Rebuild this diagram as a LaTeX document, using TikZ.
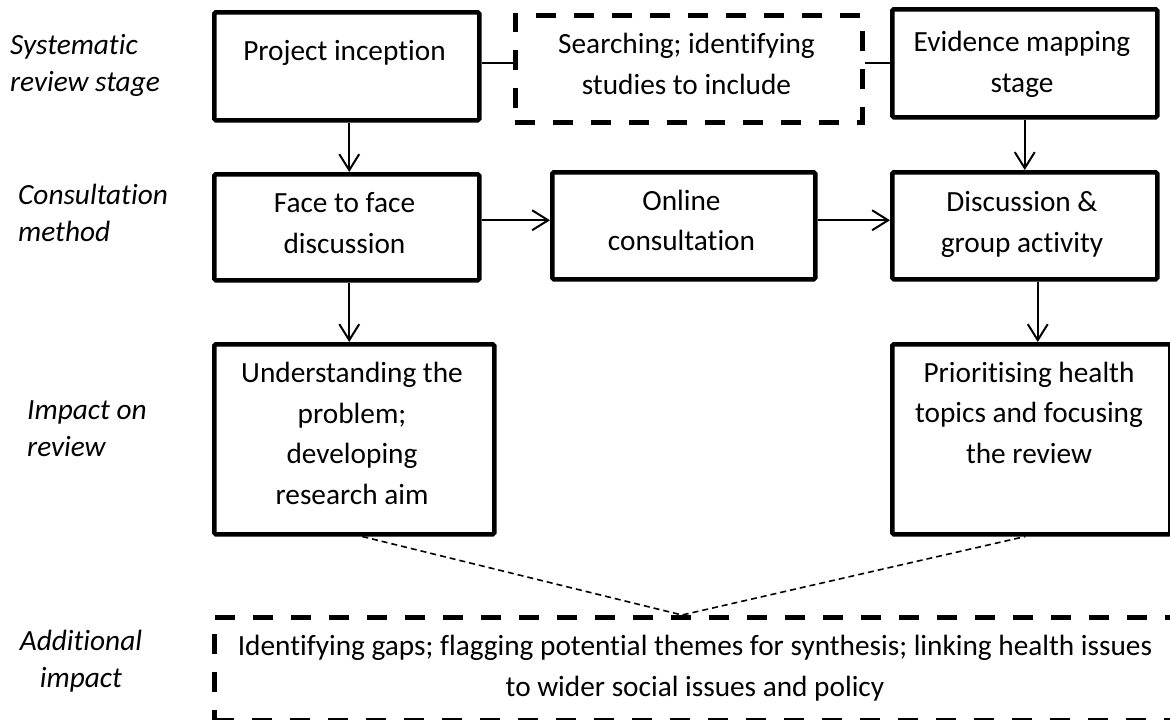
\documentclass[tikz,border=0pt]{standalone}
\usepackage{fontspec}
\setmainfont{Carlito}[RawFeature={-liga;-dlig}]
\usetikzlibrary{arrows.meta}
\begin{document}
\begin{tikzpicture}[x=1pt,y=-1pt,
  box/.style={draw, line width=4.5pt, rounded corners=1.5pt, anchor=north west, inner sep=0pt},
  dbox/.style={draw, line width=4.5pt, dash pattern=on 20pt off 18pt, anchor=north west, inner sep=0pt},
  txt/.style={anchor=north, align=center, inner sep=0pt, font=\fontsize{29.3}{40.7}\selectfont},
  lab/.style={anchor=north west, align=left, inner sep=0pt, font=\fontsize{29.3}{37}\selectfont\itshape},
  conn/.style={line width=2pt},
  arr/.style={line width=2pt, -{Straight Barb[length=16pt,width=20pt]}},
  dl/.style={line width=1.6pt, dash pattern=on 6pt off 4pt}]
\useasboundingbox (0,0) rectangle (1170,720);
\fill[white] (0,0) rectangle (1170,720);

% boxes
\node[box, minimum width=265, minimum height=108] (proj) at (212,10) {};
\node[dbox, minimum width=347, minimum height=107] (search) at (513,13) {};
\node[box, minimum width=265, minimum height=108] (evid) at (890,7) {};
\node[box, minimum width=265, minimum height=106] (face) at (212,172) {};
\node[box, minimum width=263, minimum height=107] (online) at (550,170) {};
\node[box, minimum width=265, minimum height=107] (disc) at (890,170) {};
\node[box, minimum width=280, minimum height=190] (under) at (212,342) {};
\node[box, minimum width=278, minimum height=190] (prio) at (890,342) {};
\node[dbox, minimum width=966, minimum height=103] (addl) at (212,615) {};

% box texts
\node[txt] (projT) at (344.5,31.8) {\strut Project inception};
\node[txt] (searchT) at (686.5,24.8) {\strut Searching; identifying\\studies to include};
\node[txt] (evidT) at (1022,22.8) {\strut Evidence mapping\\stage};
\node[txt] (faceT) at (344.5,183.8) {\strut Face to face\\discussion};
\node[txt] (onlineT) at (681.5,181.5) {\strut Online\\consultation};
\node[txt] (discT) at (1022,182.8) {\strut Discussion \&\\group activity};
\node[txt] (underT) at (352,353.8) {\strut Understanding the\\problem;\\developing\\research aim};
\node[txt] (prioT) at (1029,353.5) {\strut Prioritising health\\topics and focusing\\the review};
\node[txt] (addlT) at (695,626.8) {\strut Identifying gaps; flagging potential themes for synthesis; linking health issues\\to wider social issues and policy};

% row labels
\node[lab] (l1) at (10,28.4) {\strut Systematic\\review stage};
\node[lab] (l2) at (18,178.4) {\strut Consultation\\method};
\node[lab] (l3) at (27,393.4) {\strut Impact on\\review};
\node[lab, anchor=north, align=center] (l4) at (81,624.4) {\strut Additional\\impact};

% connectors
\draw[conn] ([yshift=3pt]proj.east) -- ([yshift=3pt]proj.east -| search.west);
\draw[conn] (evid.west -| search.east) -- (evid.west);
\draw[arr] ([xshift=2.5pt]proj.south) -- ([xshift=2.5pt]proj.south |- face.north);
\draw[arr] (evid.south) -- (evid.south |- disc.north);
\draw[arr] ([yshift=7pt]face.east) -- ([yshift=7pt]face.east -| online.west);
\draw[arr] ([yshift=5.5pt]online.east) -- ([yshift=5.5pt]online.east -| disc.west);
\draw[arr] ([xshift=2.5pt]face.south) -- ([xshift=2.5pt]face.south |- under.north);
\draw[arr] ([xshift=13pt]disc.south) -- ([xshift=13pt]disc.south |- prio.north);

\coordinate (meet) at (682,615);
\draw[dl] ([xshift=8pt]under.south) -- (meet) -- ([xshift=-6pt]prio.south);
\end{tikzpicture}
\end{document}
